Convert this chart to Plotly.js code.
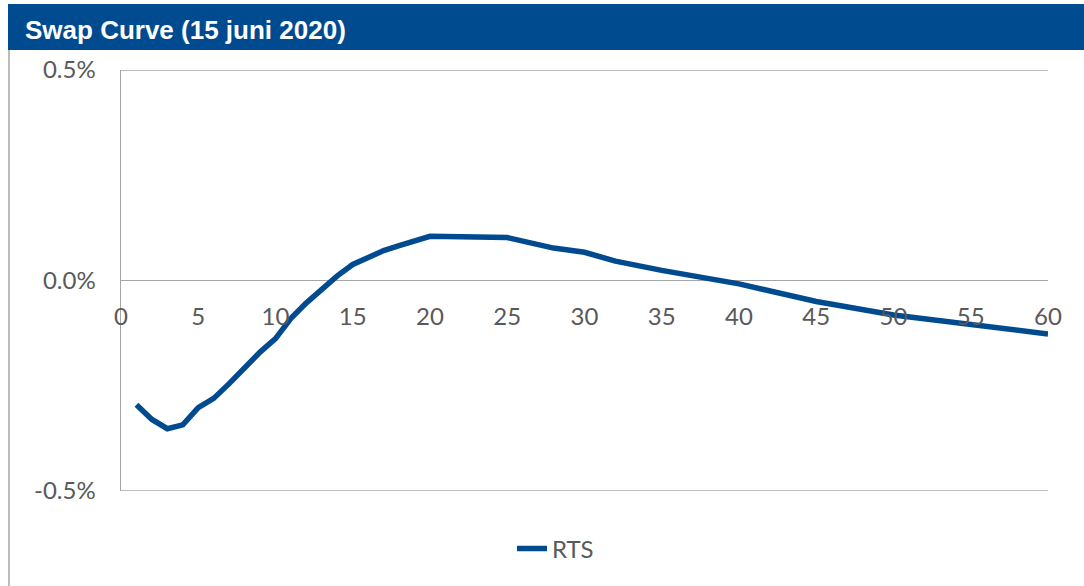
<!DOCTYPE html>
<html>
<head>
<meta charset="utf-8">
<script src="https://cdn.plot.ly/plotly-3.0.1.min.js"></script>
<style>
  html, body { margin: 0; padding: 0; background: #ffffff; }
  #chart { width: 1084px; height: 586px; }
</style>
</head>
<body>
<div id="chart"></div>
<script>
// Maturity in years
const maturities = [1, 2, 3, 4, 5, 6, 7, 8, 9, 10, 11, 12, 13, 14, 15, 16, 17, 18, 19, 20,
                    22, 25, 28, 30, 32, 35, 40, 45, 50, 55, 60];
// RTS swap rate (%)
const rtsRates = [-0.295, -0.330, -0.352, -0.343, -0.302, -0.280, -0.245, -0.207, -0.170, -0.138,
                  -0.090, -0.053, -0.019, 0.011, 0.038, 0.056, 0.071, 0.083, 0.095, 0.105,
                  0.104, 0.102, 0.077, 0.067, 0.046, 0.024, -0.008, -0.050, -0.082, -0.106, -0.127];
const seriesName = 'RTS';
const chartTitle = 'Swap Curve (15 juni 2020)';
const xTicks = [0, 5, 10, 15, 20, 25, 30, 35, 40, 45, 50, 55, 60];
const xTickLabels = ['0', '5', '10', '15', '20', '25', '30', '35', '40', '45', '50', '55', '60'];
const yTicks = [-0.5, 0.0, 0.5];
const yTickLabels = ['-0.5%', '0.0%', '0.5%'];

const W = 1084, H = 586;
const L = 121, R = 36, T = 70, B = 95;
const pw = W - L - R, ph = H - T - B;
const px = v => (v - L) / pw;           // pixel x -> paper x
const py = v => (H - B - v) / ph;       // pixel y -> paper y

const blue = '#004a90';
const grid = '#a6a6a6';
const textCol = '#595959';
const font = 'Lato, Liberation Sans, Arial, sans-serif';

const trace = {
  x: maturities,
  y: rtsRates,
  type: 'scatter',
  mode: 'lines',
  name: seriesName,
  line: { color: blue, width: 5.5 },
  hoverinfo: 'x+y'
};

const gridShapes = [yTicks[0], yTicks[yTicks.length - 1]].map(v => ({
  type: 'line', xref: 'paper', yref: 'y',
  x0: 0, x1: 1, y0: v, y1: v,
  line: { color: grid, width: 1.5 }, layer: 'below'
}));

const layout = {
  width: W, height: H,
  margin: { l: L, r: R, t: T, b: B, pad: 0 },
  paper_bgcolor: '#ffffff',
  plot_bgcolor: '#ffffff',
  showlegend: true,
  title: {
    text: '<b>' + chartTitle + '</b>',
    xref: 'container', yref: 'container',
    x: 25 / W, xanchor: 'left',
    y: 1 - 30 / H, yanchor: 'middle',
    font: { family: 'Liberation Sans, Arial, sans-serif', size: 26, color: '#ffffff' }
  },
  xaxis: {
    range: [0, 60],
    tickmode: 'array',
    tickvals: xTicks,
    ticktext: xTickLabels,
    anchor: 'free',
    position: 0.5,
    showgrid: false,
    zeroline: false,
    showline: false,
    ticks: '',
    ticklabelstandoff: 19,
    tickfont: { family: font, size: 24, color: textCol },
    fixedrange: true
  },
  yaxis: {
    range: [-0.5, 0.5],
    tickmode: 'array',
    tickvals: yTicks,
    ticktext: yTickLabels,
    showgrid: true,
    gridcolor: grid,
    gridwidth: 1.5,
    zeroline: true,
    zerolinecolor: grid,
    zerolinewidth: 1.5,
    showline: true,
    linecolor: grid,
    linewidth: 1.5,
    ticks: '',
    ticklabelstandoff: 19,
    tickfont: { family: font, size: 24, color: textCol },
    fixedrange: true
  },
  legend: {
    orientation: 'h',
    x: px(512), xanchor: 'left',
    y: py(549), yanchor: 'middle',
    font: { family: font, size: 24, color: textCol },
    bgcolor: 'rgba(0,0,0,0)'
  },
  shapes: [
    {
      type: 'rect', xref: 'paper', yref: 'paper',
      x0: px(8), x1: px(1084), y0: py(50), y1: py(4),
      fillcolor: blue, line: { width: 0 }, layer: 'below'
    },
    {
      type: 'line', xref: 'paper', yref: 'paper',
      x0: px(9), x1: px(9), y0: py(50), y1: py(586),
      line: { color: grid, width: 1.5 }
    }
  ].concat(gridShapes)
};

Plotly.newPlot('chart', [trace], layout, { displayModeBar: false, staticPlot: true });
</script>
</body>
</html>
